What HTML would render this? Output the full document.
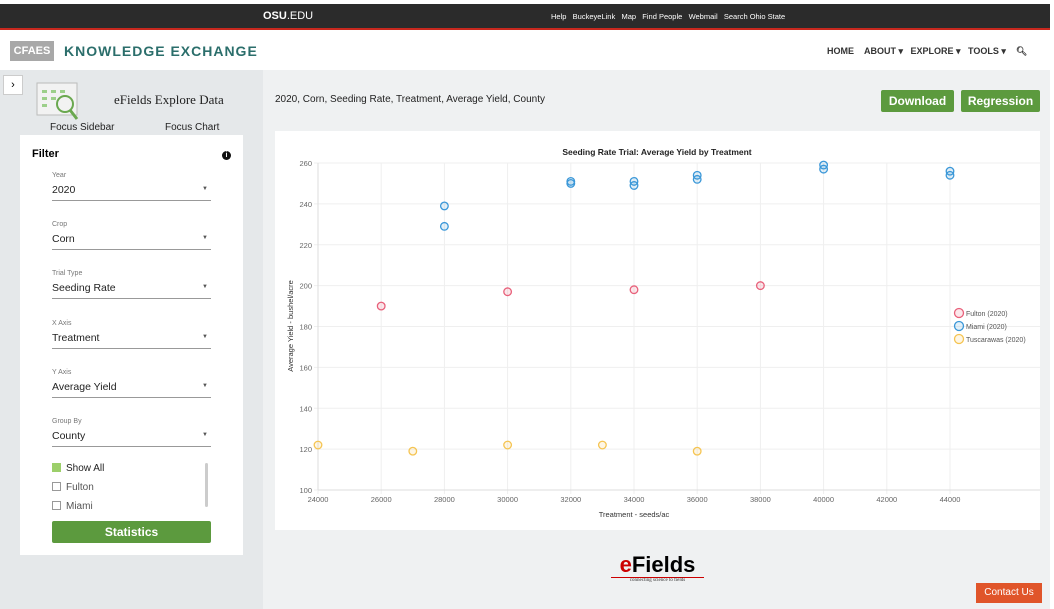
<!DOCTYPE html>
<html><head><meta charset="utf-8">
<style>
*{box-sizing:border-box;margin:0;padding:0}
body{width:1054px;height:609px;overflow:hidden;position:relative;font-family:"Liberation Sans",sans-serif;background:#fff}
.abs{position:absolute}
.topbar{left:0;top:4px;width:1050px;height:26px;background:#2b2b2b;border-bottom:2px solid #c8281e}
.toplinks{left:551px;top:12px;font-size:7.5px;color:#fff;white-space:nowrap}
.sel{position:absolute;left:52px;width:159px;border-bottom:1px solid #999}
.sel .l{font-size:7px;color:#777}
.sel .v{font-size:10.5px;color:#222;margin-top:5px;padding-bottom:4px}
.sel .a{position:absolute;right:3px;top:14px;font-size:6px;color:#555}
.btn{background:#5c9a3e;color:#fff;font-weight:bold;text-align:center;border-radius:2px}
.cb{position:absolute;left:52px;font-size:10px;color:#555}
.cb span{display:inline-block;width:9px;height:9px;border:1px solid #999;vertical-align:-1px;margin-right:5px}
</style></head><body>
<div class="abs topbar"></div>
<div class="abs" style="left:263px;top:10px;color:#fff;font-size:11px"><b>OSU</b>.EDU</div>
<div class="abs toplinks">Help&nbsp;&nbsp; BuckeyeLink&nbsp;&nbsp; Map&nbsp;&nbsp; Find People&nbsp;&nbsp; Webmail&nbsp;&nbsp; Search Ohio State</div>
<div class="abs" style="left:10px;top:41px;width:44px;height:20px;background:#a8a8a8;color:#fff;font-size:11px;font-weight:bold;text-align:center;line-height:20px">CFAES</div>
<div class="abs" style="left:64px;top:43px;color:#2b6e6b;font-size:14px;font-weight:bold;letter-spacing:1px">KNOWLEDGE EXCHANGE</div>
<div class="abs" style="left:827px;top:46px;font-size:9px;color:#333;white-space:nowrap;font-weight:bold">HOME &nbsp;&nbsp;&nbsp;ABOUT ▾ &nbsp;&nbsp;EXPLORE ▾ &nbsp;&nbsp;TOOLS ▾ &nbsp;&nbsp;&nbsp;&#128269;&#xFE0E;</div>
<div class="abs" style="left:0;top:70px;width:263px;height:539px;background:#e5e8ea"></div>
<div class="abs" style="left:263px;top:70px;width:787px;height:539px;background:#eff1f2"></div>
<div class="abs" style="left:3px;top:75px;width:20px;height:20px;background:#fff;border:1px solid #ccc;font-size:11px;text-align:center;line-height:18px">›</div>
<svg class="abs" style="left:36px;top:82px" width="46" height="40"><rect x="1" y="1" width="40" height="32" fill="#f2f2f2" stroke="#bbb"/><g fill="#9ccf8a"><rect x="6" y="8" width="5" height="3"/><rect x="15" y="8" width="5" height="3"/><rect x="24" y="8" width="5" height="3"/><rect x="6" y="15" width="5" height="3"/><rect x="15" y="15" width="5" height="3"/><rect x="6" y="22" width="5" height="3"/></g><circle cx="29" cy="22" r="8" fill="none" stroke="#6aa84f" stroke-width="2"/><line x1="34" y1="28" x2="41" y2="37" stroke="#6aa84f" stroke-width="3"/></svg>
<div class="abs" style="left:114px;top:92px;font-family:'Liberation Serif',serif;font-size:13px;color:#222">eFields Explore Data</div>
<div class="abs" style="left:50px;top:122px;font-size:10px;color:#222">Focus Sidebar</div>
<div class="abs" style="left:165px;top:122px;font-size:10px;color:#222">Focus Chart</div>
<div class="abs" style="left:20px;top:135px;width:223px;height:420px;background:#fff">
<div class="abs" style="left:12px;top:13px;font-size:11px;font-weight:bold">Filter</div>
<div class="abs" style="left:202px;top:16px;width:9px;height:9px;border-radius:50%;background:#111;color:#fff;font-size:7px;text-align:center;line-height:9px;font-weight:bold">i</div>
</div>
<div class="sel" style="top:172px"><div class="l">Year</div><div class="v">2020</div><div class="a">▼</div></div>
<div class="sel" style="top:221px"><div class="l">Crop</div><div class="v">Corn</div><div class="a">▼</div></div>
<div class="sel" style="top:270px"><div class="l">Trial Type</div><div class="v">Seeding Rate</div><div class="a">▼</div></div>
<div class="sel" style="top:320px"><div class="l">X Axis</div><div class="v">Treatment</div><div class="a">▼</div></div>
<div class="sel" style="top:369px"><div class="l">Y Axis</div><div class="v">Average Yield</div><div class="a">▼</div></div>
<div class="sel" style="top:418px"><div class="l">Group By</div><div class="v">County</div><div class="a">▼</div></div>
<div class="cb" style="top:463px;color:#222"><span style="background:#9ccf6a;border-color:#9ccf6a"></span>Show All</div>
<div class="cb" style="top:482px"><span></span>Fulton</div>
<div class="cb" style="top:501px"><span></span>Miami</div>
<div class="abs" style="left:205px;top:463px;width:3px;height:44px;background:#ccc;border-radius:2px"></div>
<div class="abs btn" style="left:52px;top:521px;width:159px;height:22px;font-size:12px;line-height:22px">Statistics</div>
<div class="abs" style="left:275px;top:94px;font-size:10px;color:#222">2020, Corn, Seeding Rate, Treatment, Average Yield, County</div>
<div class="abs btn" style="left:881px;top:90px;width:73px;height:22px;font-size:12px;line-height:22px">Download</div>
<div class="abs btn" style="left:961px;top:90px;width:79px;height:22px;font-size:12px;line-height:22px">Regression</div>
<div class="abs" style="left:275px;top:131px;width:765px;height:399px;background:#fff">
<svg id="chart" width="765" height="399"><g id="g" transform="translate(-275,-131)"></g></svg>
</div>
<div class="abs" style="left:611px;top:553px;width:93px;text-align:center"><div style="font-size:22px;font-weight:bold;line-height:24px;border-bottom:1px solid #c00"><span style="color:#c00">e</span>Fields</div><div style="font-family:'Liberation Serif',serif;font-size:5px;color:#333">connecting science to fields</div></div>
<div class="abs" style="left:976px;top:583px;width:66px;height:20px;background:#e0552a;color:#fff;font-size:10px;text-align:center;line-height:20px">Contact Us</div>
<script>
const xTicks=[24000,26000,28000,30000,32000,34000,36000,38000,40000,42000,44000];
const yTicks=[100,120,140,160,180,200,220,240,260];
const seriesNames=["Fulton (2020)","Miami (2020)","Tuscarawas (2020)"];
const fultonX=[26000,30000,34000,38000];
const fultonY=[190,197,198,200];
const miamiX=[28000,28000,32000,32000,34000,34000,36000,36000,40000,40000,44000,44000];
const miamiY=[239,229,251,250,251,249,254,252,259,257,256,254];
const tuscX=[24000,27000,30000,33000,36000];
const tuscY=[122,119,122,122,119];
const NS="http://www.w3.org/2000/svg";
const g=document.getElementById('g');
const X0=318,X1=950,Y0=490,Y1=163;
const sx=v=>X0+(v-24000)/(44000-24000)*(X1-X0);
const sy=v=>Y0-(v-100)/(260-100)*(Y0-Y1);
function mk(t,a,txt){const e=document.createElementNS(NS,t);for(const k in a)e.setAttribute(k,a[k]);if(txt!=null)e.textContent=txt;g.appendChild(e);return e;}
xTicks.forEach(v=>{
 const l=mk('line',{x1:sx(v),x2:sx(v),y1:Y1,y2:Y0+4,stroke:'#efefef'});
 
 
 const t=mk('text',{x:sx(v),y:Y0+12,'text-anchor':'middle','font-size':7.5,fill:'#666'},v);
 
 
});
yTicks.forEach(v=>{
 const l=mk('line',{x1:X0-4,x2:X1+90,y1:sy(v),y2:sy(v),stroke:'#efefef'});
 
 
 const t=mk('text',{x:X0-6,y:sy(v)+3,'text-anchor':'end','font-size':7.5,fill:'#666'},v);
 
 
});
const ax=mk('line',{x1:X0,x2:X0,y1:Y1,y2:Y0,stroke:'#ddd'});


const bx=mk('line',{x1:X0,x2:X1+90,y1:Y0,y2:Y0,stroke:'#ddd'});


const ti=mk('text',{x:657,y:155,'text-anchor':'middle','font-size':8.5,'font-weight':'bold',fill:'#222'},'Seeding Rate Trial: Average Yield by Treatment');


const xt=mk('text',{x:634,y:517,'text-anchor':'middle','font-size':7.5,fill:'#333'},'Treatment - seeds/ac');


const yt=mk('text',{x:0,y:0,'text-anchor':'middle','font-size':7.5,fill:'#333',transform:'translate(293,326) rotate(-90)'},'Average Yield - bushel/acre');


const cols=[['#e8607a','rgba(232,96,122,0.15)'],['#3a97d8','rgba(58,151,216,0.15)'],['#f5c451','rgba(245,196,81,0.15)']];
[[fultonX,fultonY],[miamiX,miamiY],[tuscX,tuscY]].forEach((s,i)=>{
 s[0].forEach((xv,j)=>{
  const c=mk('circle',{cx:sx(xv),cy:sy(s[1][j]),r:3.8,fill:cols[i][1],stroke:cols[i][0],'stroke-width':1.3});
  
  
 });
 const lc=mk('circle',{cx:959,cy:313+i*13,r:4.5,fill:cols[i][1],stroke:cols[i][0],'stroke-width':1.3});
 
 
 const lt=mk('text',{x:966,y:316+i*13,'font-size':7,fill:'#555'},seriesNames[i]);
 
 
});
</script>
</body></html>
